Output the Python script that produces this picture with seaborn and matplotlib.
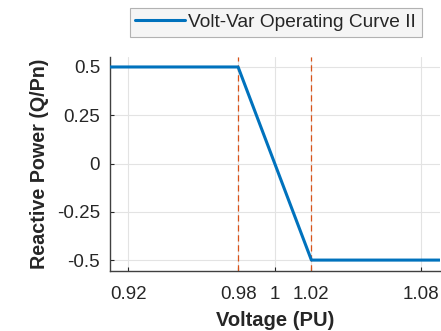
import matplotlib
matplotlib.use("Agg")
import matplotlib.pyplot as plt
import seaborn as sns
import pandas as pd

voltage = [0.91, 0.98, 1.02, 1.09]
reactive = [0.5, 0.5, -0.5, -0.5]
limits = [0.98, 1.02]
xticks = [0.92, 0.98, 1.0, 1.02, 1.08]
xticklabels = ["0.92", "0.98", "1", "1.02", "1.08"]
yticks = [-0.5, -0.25, 0, 0.25, 0.5]
yticklabels = ["-0.5", "-0.25", "0", "0.25", "0.5"]

sns.set_theme(style="white")
plt.rcParams['font.family'] = ['Liberation Sans', 'DejaVu Sans']

df = pd.DataFrame({"Voltage": voltage, "Q": reactive})

fig = plt.figure(figsize=(4.41, 3.31), dpi=100)
ax = fig.add_axes([0.249, 0.181, 0.748, 0.647])

for v in limits:
    ax.axvline(v, color="#D95319", lw=0.9, ls=(0, (5, 3)), zorder=2)

sns.lineplot(data=df, x="Voltage", y="Q", ax=ax, color="#0072BD", lw=2.2,
             label="Volt-Var Operating Curve II", zorder=3)

ax.set_xlim(0.91, 1.09)
ax.set_ylim(-0.557, 0.552)
ax.set_xticks(xticks)
ax.set_xticklabels(xticklabels)
ax.set_yticks(yticks)
ax.set_yticklabels(yticklabels)
ax.grid(True, color="#e3e3e3", lw=0.8)
ax.set_axisbelow(True)
ax.tick_params(direction="in", length=3, width=0.8, colors="#262626",
               labelsize=13.5, bottom=True, left=True)
ax.tick_params(axis="y", pad=7)
ax.tick_params(axis="x", pad=11)
for s in ["top", "right"]:
    ax.spines[s].set_visible(False)
for s in ["left", "bottom"]:
    ax.spines[s].set_color("#404040")
    ax.spines[s].set_linewidth(1.0)

ax.set_xlabel("Voltage (PU)", fontsize=14.5, fontweight="bold", color="#262626", labelpad=5.5)
ax.set_ylabel("Reactive Power (Q/Pn)", fontsize=14.2, fontweight="bold", color="#262626", labelpad=6)

leg = ax.legend(loc="upper center", bbox_to_anchor=(0.625, 0.976),
                bbox_transform=fig.transFigure, fontsize=13.8, frameon=True,
                fancybox=False, handlelength=2.6, handletextpad=0.15,
                borderpad=0.3, borderaxespad=0)
leg.get_frame().set_facecolor("#f3f3f3")
leg.get_frame().set_edgecolor("#a0a0a0")
leg.get_frame().set_linewidth(0.8)
for t in leg.get_texts():
    t.set_color("#262626")

fig.savefig("out.png", dpi=100)
